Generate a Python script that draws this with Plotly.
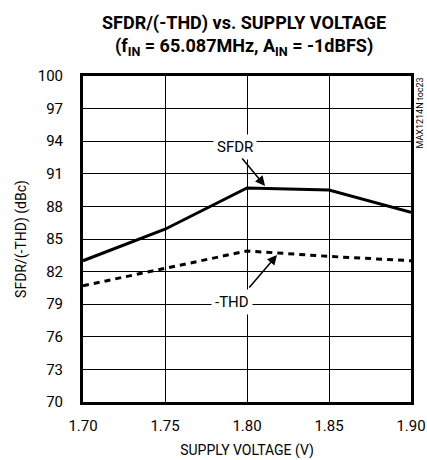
import plotly.graph_objects as go

supply_v = [1.70, 1.75, 1.80, 1.85, 1.90]
sfdr = [83.0, 85.9, 89.7, 89.5, 87.45]
thd = [80.7, 82.3, 83.9, 83.4, 83.0]
y_ticks = [70, 73, 76, 79, 82, 85, 88, 91, 94, 97, 100]
x_ticks = [1.70, 1.75, 1.80, 1.85, 1.90]

FONT = "Roboto, Liberation Sans, sans-serif"

fig = go.Figure()
fig.add_trace(go.Scatter(x=supply_v, y=sfdr, mode="lines",
                         line=dict(color="black", width=3), showlegend=False))
fig.add_trace(go.Scatter(x=supply_v, y=thd, mode="lines",
                         line=dict(color="black", width=3, dash="6px,5px"), showlegend=False))

fig.update_layout(
    width=427, height=460,
    margin=dict(l=83, r=16, t=76, b=58, autoexpand=False),
    paper_bgcolor="white", plot_bgcolor="white",
    font=dict(family=FONT, color="black", size=14),
    xaxis=dict(range=[1.70, 1.90], tickvals=x_ticks, tickformat=".2f",
               showgrid=True, gridcolor="black", gridwidth=1,
               showline=True, linecolor="black", linewidth=3, mirror=True,
               ticks="", zeroline=False, automargin=False, ticklabelstandoff=8,
               title=dict(text="SUPPLY VOLTAGE (V)", standoff=12, font=dict(size=14)),
               tickfont=dict(size=15)),
    yaxis=dict(range=[70, 100], tickvals=y_ticks,
               showgrid=True, gridcolor="black", gridwidth=1,
               showline=True, linecolor="black", linewidth=3, mirror=True,
               ticks="", zeroline=False, automargin=False, ticklabelstandoff=14,
               title=dict(text="SFDR/(-THD) (dBc)", standoff=8, font=dict(size=14)),
               tickfont=dict(size=15)),
)

# Title (two lines)
fig.add_annotation(xref="paper", yref="paper", x=0.49, y=1.0, yshift=66,
                   xanchor="center", yanchor="top", showarrow=False,
                   text="<b>SFDR/(-THD) vs. SUPPLY VOLTAGE</b>",
                   font=dict(size=18))
fig.add_annotation(xref="paper", yref="paper", x=0.49, y=1.0, yshift=43,
                   xanchor="center", yanchor="top", showarrow=False,
                   text="<b>(f<sub>IN</sub> = 65.087MHz, A<sub>IN</sub> = -1dBFS)</b>",
                   font=dict(size=18))

# Labels
fig.add_annotation(x=1.7927, y=93.47, text="SFDR", showarrow=False,
                   bgcolor="white", borderpad=3, font=dict(size=15))
fig.add_annotation(x=1.7909, y=79.2, text="-THD", showarrow=False,
                   bgcolor="white", borderpad=3, font=dict(size=15))
# Arrows
fig.add_annotation(x=1.811, y=89.88, ax=1.7963, ay=92.55, axref="x", ayref="y",
                   text="", showarrow=True, arrowhead=2, arrowsize=1.3,
                   arrowwidth=1.5, arrowcolor="black")
fig.add_annotation(x=1.8183, y=83.53, ax=1.8006, ay=80.4, axref="x", ayref="y",
                   text="", showarrow=True, arrowhead=2, arrowsize=1.3,
                   arrowwidth=1.5, arrowcolor="black")
# Side watermark
fig.add_annotation(xref="paper", yref="paper", x=1.0, y=1.0, xshift=8,
                   xanchor="center", yanchor="top", text="MAX1214N toc23",
                   textangle=-90, showarrow=False, font=dict(size=9))

fig.write_html("out.html", config={"displayModeBar": False},
               post_script="document.body.style.margin='0';document.body.style.overflow='hidden';")
